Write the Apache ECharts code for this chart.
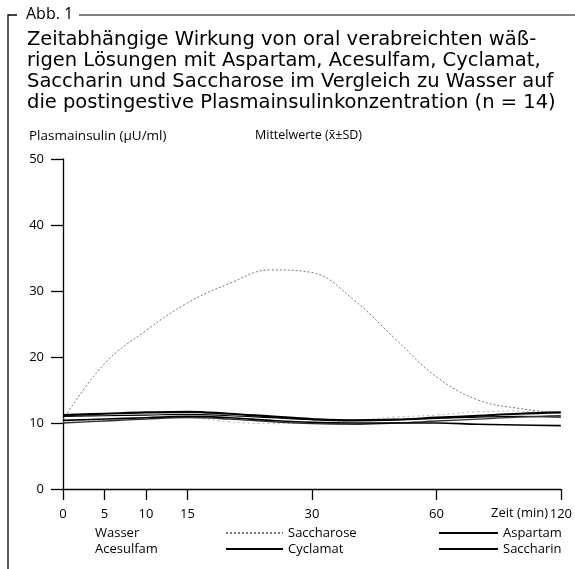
<!DOCTYPE html>
<html>
<head>
<meta charset="utf-8">
<script src="https://cdn.jsdelivr.net/npm/echarts@6/dist/echarts.min.js"></script>
<style>html,body{margin:0;padding:0;background:#fff}#c{width:575px;height:569px}</style>
</head>
<body>
<div id="c"></div>
<script>
// Time categories (min); the axis is drawn with equal steps between these points
const timeCategories = ['0','5','10','15','20','25','30','40','50','60','80','100','120'];
const labelledTimes = ['0','5','10','15','30','60','120'];
const yTicks = [0, 10, 20, 30, 40, 50];

// Plasma insulin (µU/ml)
const wasser     = [10.2, 10.5, 10.7, 10.8, 10.2,  9.9, 10.0, 10.4, 10.9, 11.2, 11.7, 11.8, 11.5];
const saccharose = [10.5, 19.0, 24.0, 28.2, 31.1, 33.2, 32.8, 28.7, 22.8, 17.0, 13.5, 12.2, 11.5];
const aspartam   = [11.0, 11.1, 11.2, 11.3, 11.1, 10.8, 10.5, 10.4, 10.5, 10.7, 10.9, 11.0, 10.9];
const acesulfam  = [10.0, 10.3, 10.6, 10.8, 10.6, 10.2,  9.9,  9.8, 10.0, 10.3, 10.6, 10.9, 11.1];
const cyclamat   = [10.4, 10.6, 10.8, 11.0, 10.8, 10.4, 10.1, 10.0, 10.0, 10.0,  9.8,  9.7,  9.6];
const saccharin  = [11.2, 11.4, 11.6, 11.7, 11.4, 11.0, 10.6, 10.4, 10.5, 10.8, 11.1, 11.4, 11.6];

const titleLines = [
  'Zeitabhängige Wirkung von oral verabreichten wäß-',
  'rigen Lösungen mit Aspartam, Acesulfam, Cyclamat,',
  'Saccharin und Saccharose im Vergleich zu Wasser auf',
  'die postingestive Plasmainsulinkonzentration (n = 14)'
];

const FONT = 'Open Sans';
const chart = echarts.init(document.getElementById('c'), null, {renderer: 'canvas'});
const showLabel = (i, v) => labelledTimes.indexOf(v) >= 0;

function mk(name, data, color, width, type) {
  return {
    name, type: 'line', data, smooth: 0.4, symbol: 'none',
    lineStyle: {color, width, type: type || 'solid'},
    itemStyle: {color}, z: 3
  };
}

const legendBase = {
  orient: 'vertical', top: 520, itemHeight: 10, itemGap: 0, selectedMode: false,
  itemStyle: {opacity: 0, borderWidth: 0},
  textStyle: {fontFamily: FONT, fontSize: 13, color: '#000', lineHeight: 16}
};

chart.setOption({
  animation: false,
  backgroundColor: '#fff',
  title: {
    text: titleLines.join('\n'), left: 22, top: 25,
    textStyle: {fontFamily: 'DejaVu Sans', fontSize: 19.5, fontWeight: 'normal', color: '#000', lineHeight: 20.7}
  },
  graphic: [
    {type: 'polyline', shape: {points: [[17, 15], [8, 15], [8, 569]]}, style: {stroke: '#000', lineWidth: 1.3, fill: null}},
    {type: 'line', shape: {x1: 79, y1: 15, x2: 575, y2: 15}, style: {stroke: '#000', lineWidth: 1.2}},
    {type: 'text', left: 26, top: 6, style: {text: 'Abb. 1', font: '16px "Open Sans"', fill: '#000'}},
    {type: 'text', left: 29, top: 129, style: {text: 'Plasmainsulin (µU/ml)', font: '13.5px "Open Sans"', fill: '#000'}},
    {type: 'text', left: 255, top: 129, style: {text: 'Mittelwerte (x\u0304\u00B1SD)', font: '12.5px "Open Sans"', fill: '#000'}},
    {type: 'text', right: 27, top: 507, style: {text: 'Zeit (min)', font: '13px "Open Sans"', fill: '#000'}}
  ],
  grid: {left: 63, right: 11, top: 159, bottom: 80},
  xAxis: {
    type: 'category', data: timeCategories, boundaryGap: false,
    axisLine: {lineStyle: {color: '#000', width: 1.3}},
    axisTick: {show: true, interval: showLabel, length: 11, lineStyle: {color: '#000', width: 1.3}},
    axisLabel: {interval: showLabel, margin: 19, color: '#000', fontFamily: FONT, fontSize: 13},
    splitLine: {show: false}
  },
  yAxis: {
    type: 'value', min: yTicks[0], max: yTicks[yTicks.length - 1], interval: 10,
    axisLine: {show: true, lineStyle: {color: '#000', width: 1.3}},
    axisTick: {show: true, length: 12, lineStyle: {color: '#000', width: 1.3}},
    axisLabel: {margin: 19, color: '#000', fontFamily: FONT, fontSize: 13},
    splitLine: {show: false}
  },
  legend: [
    Object.assign({}, legendBase, {left: 85, itemWidth: 0, icon: 'rect', data: ['Wasser', 'Acesulfam']}),
    Object.assign({}, legendBase, {left: 220, itemWidth: 57, data: ['Saccharose', 'Cyclamat']}),
    Object.assign({}, legendBase, {left: 433, itemWidth: 59, data: ['Aspartam', 'Saccharin']})
  ],
  series: [
    mk('Wasser', wasser, '#b5b5b5', 1, [2, 3]),
    mk('Saccharose', saccharose, '#777', 1, [2, 2]),
    mk('Aspartam', aspartam, '#000', 1.2),
    mk('Acesulfam', acesulfam, '#333', 1.3),
    mk('Cyclamat', cyclamat, '#000', 1.6),
    mk('Saccharin', saccharin, '#000', 2.2)
  ]
});
</script>
</body>
</html>
